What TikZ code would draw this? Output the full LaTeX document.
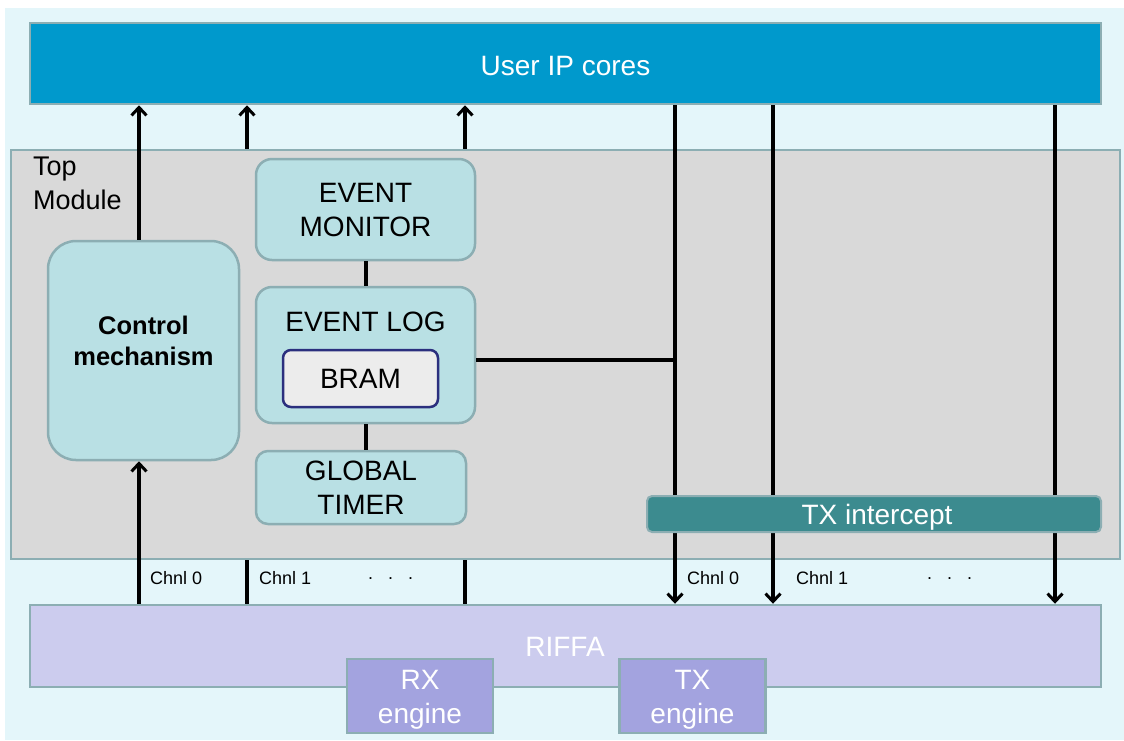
\documentclass[tikz,border=0pt]{standalone}
\usepackage{fontspec}
\setmainfont{Liberation Sans}
\usetikzlibrary{arrows.meta}
\definecolor{bgc}{HTML}{E4F6FA}
\definecolor{ipcol}{HTML}{0099CC}
\definecolor{topfill}{HTML}{D9D9D9}
\definecolor{edgec}{HTML}{8CAEB3}
\definecolor{tealbox}{HTML}{B9E0E4}
\definecolor{bramfill}{HTML}{ECECEC}
\definecolor{bramedge}{HTML}{2B2F7E}
\definecolor{txic}{HTML}{3C8B8F}
\definecolor{riffac}{HTML}{CCCCEE}
\definecolor{engc}{HTML}{A3A3DF}
\tikzset{
  blk/.style={draw=edgec, line width=2.5pt, inner sep=0pt},
  big/.style={font=\fontsize{28}{34}\selectfont, align=center},
  tbox/.style={blk, fill=tealbox, big},
  chn/.style={font=\fontsize{18}{20}\selectfont, inner sep=0pt, anchor=west},
  wire/.style={line width=3.2pt, black},
  arr/.style={wire, -{Straight Barb[length=8pt,width=15pt,line width=3pt]}},
}
\begin{document}
\begin{tikzpicture}[x=1pt,y=-1pt]
\useasboundingbox (0,0) rectangle (1124,740);
\fill[bgc] (5,8) rectangle (1124,740);
% main blocks
\node[blk, fill=topfill, minimum width=1109pt, minimum height=409pt] (top) at (565.5,354.5) {};
\node[anchor=north west, inner sep=0pt, font=\fontsize{27}{34}\selectfont, align=left] (toplbl) at (33,157) {Top\\Module};
\node[blk, fill=ipcol, minimum width=1071pt, minimum height=81pt] (ipc) at (565.5,63.5) {};
\node[big, text=white, inner sep=0pt] (ipclbl) at (565.5,66) {User IP cores};
\node[blk, fill=riffac, minimum width=1071pt, minimum height=82pt] (riffa) at (565.5,646) {};
\node[big, text=white, inner sep=0pt] (riffalbl) at (565,647) {RIFFA};
\node[blk, fill=engc, minimum width=146pt, minimum height=74pt] (rx) at (420,696) {};
\node[big, text=white, inner sep=0pt] (rxlbl) at (420,700) {RX\\engine};
\node[blk, fill=engc, minimum width=146pt, minimum height=74pt] (tx) at (692.5,696) {};
\node[big, text=white, inner sep=0pt] (txlbl) at (692.5,700) {TX\\engine};
% inner blocks
\node[tbox, rounded corners=28pt, minimum width=191pt, minimum height=219pt] (ctrl) at (143.5,350.5) {};
\node[inner sep=0pt, align=center, font=\bfseries\fontsize{25.5}{31}\selectfont] (ctrllbl) at (143.5,341) {Control\\mechanism};
\node[tbox, rounded corners=16pt, minimum width=219pt, minimum height=101pt] (evmon) at (365.5,209.5) {EVENT\\MONITOR};
\node[tbox, rounded corners=16pt, minimum width=219pt, minimum height=136pt] (evlog) at (365.5,355) {};
\node[big, inner sep=0pt] (evloglbl) at (365.5,322) {EVENT LOG};
\node[draw=bramedge, line width=2.5pt, fill=bramfill, rounded corners=8pt, minimum width=155pt, minimum height=57pt, big, inner sep=0pt] (bram) at (360.5,378.5) {BRAM};
\node[tbox, rounded corners=12pt, minimum width=210pt, minimum height=73pt] (gtimer) at (361,487.5) {GLOBAL\\TIMER};
% x positions of wires
\coordinate (c0) at (139,0);
\coordinate (c1) at (247,0);
\coordinate (c2) at (465,0);
\coordinate (cm) at (366,0);
\coordinate (d0) at (675,0);
\coordinate (d1) at (773,0);
\coordinate (d2) at (1055,0);
\coordinate (j) at (675,360);
% upward wires
\draw[arr] (riffa.north -| c0) -- (ctrl.south -| c0);
\draw[arr] (ctrl.north -| c0) -- (ipc.south -| c0);
\draw[wire] (riffa.north -| c1) -- (top.south -| c1);
\draw[arr] (top.north -| c1) -- (ipc.south -| c1);
\draw[wire] (riffa.north -| c2) -- (top.south -| c2);
\draw[arr] (top.north -| c2) -- (ipc.south -| c2);
% internal wires
\draw[wire] (evmon.south -| cm) -- (evlog.north -| cm);
\draw[wire] (evlog.south -| cm) -- (gtimer.north -| cm);
\draw[wire] (evlog.east |- j) -- (j);
% downward wires
\draw[arr] (ipc.south -| d0) -- (riffa.north -| d0);
\draw[arr] (ipc.south -| d1) -- (riffa.north -| d1);
\draw[arr] (ipc.south -| d2) -- (riffa.north -| d2);
% TX intercept on top
\node[draw=edgec, line width=2pt, fill=txic, rounded corners=5pt, minimum width=454pt, minimum height=36pt, inner sep=0pt] (txi) at (874,514) {};
\node[big, text=white, inner sep=0pt] (txilbl) at (877,517) {TX intercept};
% channel labels
\node[chn] (l0) at (150,578) {Chnl 0};
\node[chn] (l1) at (259,578) {Chnl 1};
\node[chn] (l2) at (368,579) {.\ \ \ .\ \ \ .};
\node[chn] (r0) at (687,578) {Chnl 0};
\node[chn] (r1) at (796,578) {Chnl 1};
\node[chn] (r2) at (927,579) {.\ \ \ .\ \ \ .};
\end{tikzpicture}
\end{document}
